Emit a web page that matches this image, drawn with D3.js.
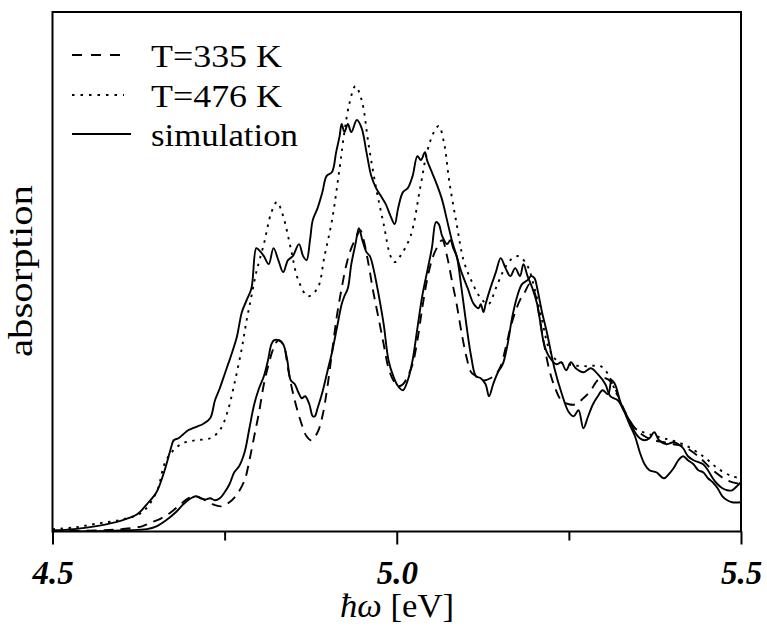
<!DOCTYPE html>
<html><head><meta charset="utf-8">
<script src="https://cdn.jsdelivr.net/npm/d3@7"></script>
<style>html,body{margin:0;padding:0;background:#fff;}</style>
</head><body>
<script>
// Data: [photon energy (eV), absorption (arb. units)]
const exp335 = [[4.500,1],[4.566,3],[4.601,6],[4.630,13],[4.644,23],[4.658,33],[4.672,48],[4.686,68],[4.697,83],[4.708,88],[4.722,78],[4.736,66],[4.747,63],[4.757,73],[4.768,93],[4.779,128],[4.786,178],[4.793,238],[4.800,298],[4.807,368],[4.814,418],[4.821,458],[4.828,478],[4.835,468],[4.842,408],[4.849,348],[4.860,278],[4.869,238],[4.876,228],[4.885,248],[4.892,288],[4.899,358],[4.906,448],[4.913,538],[4.920,608],[4.927,668],[4.934,708],[4.942,738],[4.947,753],[4.952,728],[4.959,668],[4.966,598],[4.973,538],[4.981,468],[4.988,408],[4.995,378],[5.002,363],[5.009,368],[5.016,388],[5.023,418],[5.030,478],[5.037,558],[5.044,628],[5.051,678],[5.058,708],[5.066,728],[5.073,688],[5.080,628],[5.087,568],[5.094,498],[5.101,438],[5.108,398],[5.115,388],[5.122,378],[5.129,378],[5.136,383],[5.144,393],[5.151,413],[5.158,458],[5.165,508],[5.172,548],[5.179,578],[5.186,598],[5.193,618],[5.200,598],[5.207,538],[5.214,468],[5.221,408],[5.229,363],[5.239,328],[5.250,318],[5.260,318],[5.271,333],[5.282,353],[5.292,378],[5.303,383],[5.314,368],[5.324,328],[5.335,288],[5.346,258],[5.360,238],[5.374,228],[5.388,223],[5.402,218],[5.416,213],[5.438,188],[5.459,153],[5.480,128],[5.500,118]];

const exp476 = [[4.500,6],[4.531,10],[4.566,20],[4.601,30],[4.630,48],[4.651,98],[4.665,178],[4.686,218],[4.708,228],[4.729,233],[4.743,253],[4.754,298],[4.764,368],[4.775,458],[4.782,528],[4.789,588],[4.796,648],[4.807,718],[4.818,798],[4.826,823],[4.835,788],[4.846,708],[4.857,628],[4.871,588],[4.885,608],[4.895,688],[4.906,778],[4.917,908],[4.924,998],[4.931,1068],[4.940,1113],[4.949,1078],[4.959,968],[4.970,858],[4.981,768],[4.991,688],[4.997,673],[5.005,688],[5.020,738],[5.034,858],[5.044,948],[5.054,998],[5.061,1013],[5.069,968],[5.076,878],[5.087,768],[5.097,678],[5.108,628],[5.122,583],[5.133,568],[5.144,608],[5.154,648],[5.165,678],[5.177,688],[5.190,663],[5.200,608],[5.211,528],[5.221,458],[5.232,428],[5.253,416],[5.275,413],[5.296,413],[5.307,393],[5.317,353],[5.331,298],[5.346,258],[5.367,243],[5.388,233],[5.416,218],[5.445,188],[5.466,158],[5.487,138],[5.500,133]];

const sim476 = [[4.500,3],[4.531,6],[4.566,14],[4.601,28],[4.623,43],[4.637,68],[4.651,98],[4.662,148],[4.672,208],[4.676,228],[4.683,233],[4.690,243],[4.697,253],[4.704,258],[4.711,263],[4.718,268],[4.729,283],[4.736,328],[4.743,358],[4.750,393],[4.754,413],[4.761,448],[4.768,488],[4.775,548],[4.782,578],[4.789,608],[4.796,708],[4.800,703],[4.807,688],[4.814,668],[4.821,708],[4.828,678],[4.835,648],[4.842,678],[4.849,688],[4.858,718],[4.864,688],[4.869,678],[4.874,728],[4.878,778],[4.885,808],[4.892,848],[4.898,888],[4.906,898],[4.912,948],[4.917,988],[4.920,1018],[4.924,998],[4.929,1018],[4.934,998],[4.942,1028],[4.949,1008],[4.956,948],[4.963,888],[4.970,858],[4.977,838],[4.984,818],[4.991,788],[4.997,768],[5.002,808],[5.009,848],[5.016,858],[5.023,888],[5.030,938],[5.035,928],[5.041,948],[5.044,928],[5.051,898],[5.058,868],[5.066,828],[5.073,778],[5.080,728],[5.087,688],[5.094,648],[5.103,608],[5.112,568],[5.119,558],[5.122,568],[5.126,548],[5.129,568],[5.136,608],[5.144,648],[5.151,683],[5.158,658],[5.165,638],[5.172,658],[5.179,638],[5.184,668],[5.190,638],[5.197,608],[5.204,568],[5.214,468],[5.221,438],[5.232,418],[5.239,423],[5.246,403],[5.253,423],[5.260,408],[5.271,398],[5.282,408],[5.292,393],[5.303,368],[5.310,338],[5.321,328],[5.331,298],[5.338,278],[5.346,248],[5.353,233],[5.360,228],[5.367,233],[5.374,248],[5.381,228],[5.392,218],[5.402,223],[5.409,218],[5.416,208],[5.423,188],[5.431,178],[5.445,168],[5.452,153],[5.459,133],[5.466,118],[5.473,108],[5.480,103],[5.487,103],[5.494,113],[5.500,123]];

const sim335 = [[4.500,0],[4.566,1],[4.608,3],[4.637,6],[4.651,13],[4.665,28],[4.679,48],[4.690,68],[4.701,83],[4.708,88],[4.715,83],[4.722,80],[4.729,83],[4.736,78],[4.743,83],[4.750,98],[4.757,118],[4.764,148],[4.771,163],[4.779,198],[4.786,258],[4.793,318],[4.800,358],[4.807,388],[4.813,428],[4.818,468],[4.822,478],[4.828,478],[4.835,468],[4.841,428],[4.846,378],[4.852,368],[4.857,348],[4.862,333],[4.867,338],[4.873,318],[4.878,288],[4.881,288],[4.885,308],[4.892,348],[4.899,398],[4.906,448],[4.913,508],[4.920,568],[4.924,588],[4.929,608],[4.934,668],[4.940,718],[4.945,758],[4.950,728],[4.956,698],[4.961,688],[4.966,658],[4.973,598],[4.981,518],[4.988,428],[4.995,388],[5.002,363],[5.009,353],[5.016,378],[5.023,428],[5.030,508],[5.037,588],[5.044,648],[5.051,708],[5.057,773],[5.061,768],[5.066,738],[5.073,718],[5.078,728],[5.082,708],[5.087,688],[5.094,608],[5.101,518],[5.108,438],[5.115,388],[5.122,383],[5.129,368],[5.134,338],[5.140,368],[5.147,398],[5.154,418],[5.161,468],[5.168,538],[5.175,588],[5.182,618],[5.190,628],[5.195,638],[5.200,633],[5.204,608],[5.211,548],[5.218,498],[5.229,408],[5.239,348],[5.250,298],[5.257,288],[5.264,303],[5.271,258],[5.278,288],[5.285,318],[5.292,338],[5.299,353],[5.307,343],[5.312,378],[5.317,368],[5.324,328],[5.331,298],[5.338,268],[5.346,238],[5.353,198],[5.360,168],[5.367,153],[5.377,148],[5.388,133],[5.395,143],[5.402,158],[5.409,178],[5.416,188],[5.423,178],[5.431,168],[5.438,153],[5.445,148],[5.452,133],[5.459,123],[5.466,108],[5.473,88],[5.480,78],[5.487,73],[5.500,73]];

const majorTicks = [4.5, 5.0, 5.5];
const minorTicks = [4.75, 5.25];
const tickLabels = ["4.5", "5.0", "5.5"];
const legendLabels = ["T=335 K", "T=476 K", "simulation"];

const W = 767, H = 628;
const L = 52.5, R = 741, T = 12, B = 531.5;
const FONT = "'Liberation Serif', 'DejaVu Serif', serif";
const svg = d3.select("body").append("svg").attr("width", W).attr("height", H)
  .style("font-family", FONT);
svg.append("rect").attr("width", W).attr("height", H).attr("fill", "#fff");

const x = d3.scaleLinear().domain([4.5, 5.5]).range([L, R]);
const y = d3.scaleLinear().domain([0, 1298]).range([B, T]);

svg.append("clipPath").attr("id", "clip").append("rect")
  .attr("x", L).attr("y", T).attr("width", R - L).attr("height", B - T);

const line = d3.line().x(d => x(d[0])).y(d => y(d[1])).curve(d3.curveCatmullRom.alpha(0.5));
const g = svg.append("g").attr("clip-path", "url(#clip)");
const series = [
  {data: exp476, dash: "2.5,5.5"},
  {data: exp335, dash: "10,7"},
  {data: sim476, dash: null},
  {data: sim335, dash: null}
];
series.forEach(s => {
  g.append("path").datum(s.data).attr("d", line).attr("fill", "none")
    .attr("stroke", "#000").attr("stroke-width", 1.9)
    .attr("stroke-dasharray", s.dash);
});

// Axes
const axMajor = d3.axisBottom(x).tickValues(majorTicks).tickSize(13).tickFormat((d, i) => tickLabels[i]);
const axMinor = d3.axisBottom(x).tickValues(minorTicks).tickSize(9).tickFormat("");
const gMaj = svg.append("g").attr("transform", `translate(0,${B})`).call(axMajor);
const gMin = svg.append("g").attr("transform", `translate(0,${B})`).call(axMinor);
[gMaj, gMin].forEach(a => {
  a.select(".domain").remove();
  a.selectAll(".tick line").attr("stroke", "#000").attr("stroke-width", 2);
});
gMaj.selectAll(".tick text").attr("y", 52).attr("dy", null)
  .attr("fill", "#000")
  .style("font-family", FONT)
  .style("font-size", "33px").style("font-weight", "bold").style("font-style", "italic");

// Frame
svg.append("rect").attr("x", L).attr("y", T).attr("width", R - L).attr("height", B - T)
  .attr("fill", "none").attr("stroke", "#000").attr("stroke-width", 2);

// Legend
const leg = [
  {dash: "10,9", x2: 120, ly: 55, ty: 67, tl: 131},
  {dash: "2.5,6", x2: 124, ly: 95, ty: 107, tl: 131},
  {dash: null, x2: 131, ly: 134, ty: 146, tl: 147}
];
leg.forEach((d, i) => {
  svg.append("line").attr("x1", 72).attr("x2", d.x2).attr("y1", d.ly).attr("y2", d.ly)
    .attr("stroke", "#000").attr("stroke-width", 2).attr("stroke-dasharray", d.dash);
  svg.append("text").attr("x", 151).attr("y", d.ty).text(legendLabels[i])
    .attr("font-size", 31).attr("textLength", d.tl).attr("lengthAdjust", "spacingAndGlyphs");
});

// Axis titles
const xt = svg.append("text").attr("x", 397).attr("y", 617).attr("text-anchor", "middle")
  .attr("font-size", 34).attr("textLength", 114).attr("lengthAdjust", "spacingAndGlyphs");
xt.append("tspan").attr("font-style", "italic").text("ħω");
xt.append("tspan").text(" [eV]");

svg.append("text").attr("transform", "translate(32,271) rotate(-90)")
  .attr("text-anchor", "middle").attr("font-size", 34)
  .attr("textLength", 172).attr("lengthAdjust", "spacingAndGlyphs").text("absorption");
</script>
</body></html>
